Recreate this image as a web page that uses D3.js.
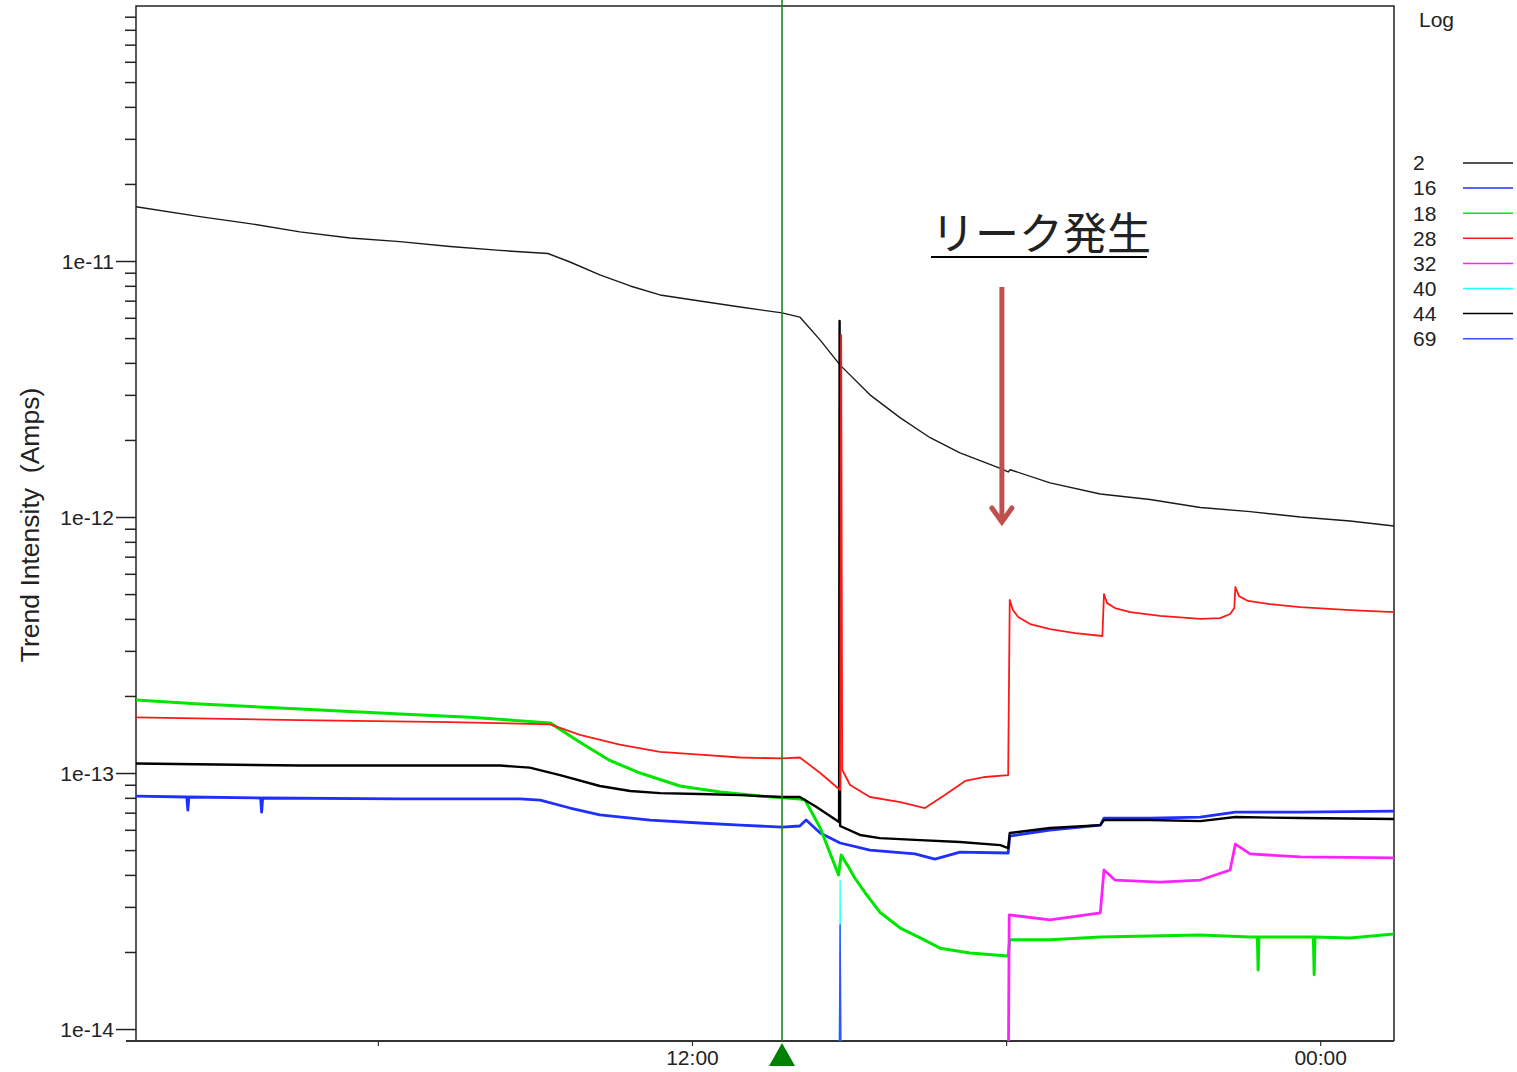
<!DOCTYPE html>
<html><head><meta charset="utf-8">
<script src="https://cdn.jsdelivr.net/npm/d3@7"></script>
<style>
html,body{margin:0;padding:0;background:#fff;}
svg{display:block;}
text{font-family:"Liberation Sans",Arial,sans-serif;fill:#222;}
</style></head>
<body>
<svg id="chart" width="1517" height="1072"></svg>
<script>
// ---- data: [hour of day (24+ = next day), ion current in Amps] ----
const massLabels = ["2","16","18","28","32","40","44","69"];
const s2 = [[1.38,1.63e-11],[2.60,1.49e-11],[3.55,1.40e-11],[4.51,1.30e-11],[5.47,1.23e-11],[6.42,1.19e-11],[7.38,1.14e-11],[8.33,1.10e-11],[9.25,1.07e-11],[9.67,9.91e-12],[10.24,8.82e-12],[10.82,7.99e-12],[11.39,7.37e-12],[12.15,6.98e-12],[12.92,6.61e-12],[13.72,6.27e-12],[14.06,6.04e-12],[14.45,4.91e-12],[14.83,3.92e-12],[15.40,3.00e-12],[15.98,2.44e-12],[16.55,2.04e-12],[17.12,1.78e-12],[17.89,1.55e-12],[18.04,1.50e-12],[18.08,1.53e-12],[18.84,1.36e-12],[19.80,1.23e-12],[20.75,1.17e-12],[21.71,1.09e-12],[22.66,1.05e-12],[23.62,1.00e-12],[24.57,9.65e-13],[25.41,9.22e-13]];
const s16 = [[1.38,8.13e-14],[2.35,8.06e-14],[2.37,7.17e-14],[2.39,8.06e-14],[3.76,7.99e-14],[3.78,7.04e-14],[3.80,7.99e-14],[6.42,7.92e-14],[8.71,7.92e-14],[9.10,7.84e-14],[9.67,7.30e-14],[10.24,6.86e-14],[11.20,6.55e-14],[12.15,6.38e-14],[12.92,6.26e-14],[13.72,6.15e-14],[14.06,6.21e-14],[14.18,6.55e-14],[14.45,5.83e-14],[14.83,5.33e-14],[15.40,5.00e-14],[16.26,4.83e-14],[16.64,4.61e-14],[17.12,4.91e-14],[18.04,4.87e-14],[18.07,5.67e-14],[18.84,5.99e-14],[19.80,6.26e-14],[19.87,6.67e-14],[20.75,6.67e-14],[21.71,6.73e-14],[22.38,7.04e-14],[23.62,7.04e-14],[25.41,7.10e-14]];
const s18 = [[1.38,1.93e-13],[2.60,1.86e-13],[4.51,1.78e-13],[6.42,1.70e-13],[7.76,1.65e-13],[9.29,1.57e-13],[9.86,1.32e-13],[10.43,1.12e-13],[11.01,1.00e-13],[11.77,8.90e-14],[12.54,8.43e-14],[13.30,8.13e-14],[14.06,7.92e-14],[14.16,7.84e-14],[14.45,6.10e-14],[14.80,4.00e-14],[14.85,4.78e-14],[14.98,4.33e-14],[15.11,3.89e-14],[15.31,3.40e-14],[15.59,2.86e-14],[15.98,2.48e-14],[16.36,2.27e-14],[16.74,2.07e-14],[17.31,1.98e-14],[18.04,1.93e-14],[18.07,2.23e-14],[18.84,2.23e-14],[19.80,2.29e-14],[20.75,2.31e-14],[21.71,2.33e-14],[22.66,2.29e-14],[22.80,2.29e-14],[22.815,1.70e-14],[22.83,2.29e-14],[23.62,2.29e-14],[23.87,2.29e-14],[23.885,1.63e-14],[23.90,2.29e-14],[24.57,2.27e-14],[25.41,2.35e-14]];
const s28 = [[1.38,1.65e-13],[4.51,1.61e-13],[7.38,1.58e-13],[9.29,1.55e-13],[9.86,1.41e-13],[10.62,1.29e-13],[11.39,1.21e-13],[12.15,1.18e-13],[12.92,1.15e-13],[13.72,1.14e-13],[14.06,1.15e-13],[14.45,1.00e-13],[14.83,8.58e-14],[14.85,5.14e-12],[14.87,1.03e-13],[15.02,8.98e-14],[15.40,8.06e-14],[15.98,7.70e-14],[16.45,7.30e-14],[16.83,8.20e-14],[17.22,9.31e-14],[17.60,9.65e-14],[18.04,9.82e-14],[18.07,4.74e-13],[18.13,4.33e-13],[18.23,4.07e-13],[18.46,3.82e-13],[18.84,3.65e-13],[19.32,3.52e-13],[19.84,3.43e-13],[19.87,5.00e-13],[19.93,4.61e-13],[20.08,4.41e-13],[20.37,4.25e-13],[20.94,4.11e-13],[21.71,4.00e-13],[22.09,4.03e-13],[22.28,4.18e-13],[22.36,4.41e-13],[22.38,5.33e-13],[22.45,4.91e-13],[22.62,4.70e-13],[23.04,4.57e-13],[23.62,4.45e-13],[24.57,4.33e-13],[25.41,4.25e-13]];
const s32 = [[18.04,5.0e-15],[18.06,2.79e-14],[18.84,2.67e-14],[19.80,2.84e-14],[19.87,4.18e-14],[20.08,3.82e-14],[20.94,3.75e-14],[21.71,3.82e-14],[22.28,4.18e-14],[22.38,5.28e-14],[22.66,4.83e-14],[23.62,4.70e-14],[25.41,4.66e-14]];
const s40 = [[14.81,5.0e-15],[14.83,3.82e-14],[14.85,5.0e-15]];
const s44 = [[1.38,1.09e-13],[4.51,1.07e-13],[8.33,1.07e-13],[8.90,1.05e-13],[9.48,9.82e-14],[10.24,8.90e-14],[10.82,8.51e-14],[11.39,8.35e-14],[12.15,8.28e-14],[12.92,8.20e-14],[13.72,8.06e-14],[14.06,8.06e-14],[14.35,7.43e-14],[14.81,6.44e-14],[14.82,5.83e-12],[14.83,6.21e-14],[15.21,5.73e-14],[15.59,5.57e-14],[16.36,5.47e-14],[17.12,5.38e-14],[17.89,5.23e-14],[18.04,5.09e-14],[18.07,5.83e-14],[18.84,6.10e-14],[19.80,6.26e-14],[19.87,6.55e-14],[20.75,6.55e-14],[21.71,6.49e-14],[22.38,6.73e-14],[23.62,6.67e-14],[25.41,6.61e-14]];
const s69 = [[14.81,5.0e-15],[14.83,2.55e-14],[14.85,5.0e-15]];

// axis / annotation values
const yDomain = [8.98e-15, 9.91e-11];
const xDomainHours = [1.38, 25.41];
const xTickHours = [6, 12, 18, 24];
const xTickLabels = {12: "12:00", 24: "00:00"};
const markerHour = 13.72;
const leakHour = 17.92;
const leakLabel = "リーク発生";
const yTitle = "Trend Intensity  (Amps)";
const legendTitle = "Log";

// ---- drawing ----
const seriesList = [s2, s16, s18, s28, s32, s40, s44, s69];
const colors = ["#1a1a1a", "#1f2fff", "#00e600", "#ff1a1a", "#ff22ff", "#22ffff", "#000000", "#3355ff"];
const widths = [1.4, 2.8, 3.0, 1.8, 2.8, 1.2, 2.4, 1.4];
const drawOrder = [0, 1, 2, 6, 3, 4, 5, 7];

const svg = d3.select("#chart");
const L = 136, R = 1394, T = 6, B = 1041;
const base = new Date(2020, 0, 1, 0, 0, 0).getTime();
const toDate = h => new Date(base + h * 3600e3);

const x = d3.scaleTime().domain(xDomainHours.map(toDate)).range([L, R]);
const y = d3.scaleLog().domain(yDomain).range([B, T]);

svg.append("defs").append("clipPath").attr("id", "clip")
  .append("rect").attr("x", L).attr("y", T).attr("width", R - L).attr("height", B - T);

// frame
svg.append("path")
  .attr("d", `M${L},${B}V${T}H${R}V${B}`)
  .attr("fill", "none").attr("stroke", "#222").attr("stroke-width", 1.5);

// y axis
const yAxis = d3.axisLeft(y)
  .tickValues(d3.range(-14, -10).flatMap(e => d3.range(1, 10).map(m => m * Math.pow(10, e))).filter(v => v >= yDomain[0] && v <= yDomain[1]))
  .tickSize(0)
  .tickFormat(() => "");
const gy = svg.append("g").attr("transform", `translate(${L},0)`).call(yAxis);
gy.select(".domain").remove();
gy.selectAll(".tick").each(function (d) {
  const mant = Math.round(d / Math.pow(10, Math.floor(Math.log10(d) + 1e-9)));
  const g = d3.select(this);
  const major = mant === 1;
  g.select("line").attr("x2", major ? -20 : -11).attr("stroke", "#222").attr("stroke-width", 1.5);
  if (major) {
    const e = Math.round(Math.log10(d));
    g.select("text").attr("x", -22).attr("dy", "0.34em")
      .style("font-size", "21px").attr("fill", "#222").text("1e" + e);
  }
});

// x axis
const xAxis = d3.axisBottom(x)
  .tickValues(xTickHours.map(toDate))
  .tickSize(5)
  .tickPadding(4)
  .tickFormat((d) => { const h = (d.getTime() - base) / 3600e3; return xTickLabels[Math.round(h)] || ""; });
const gx = svg.append("g").attr("transform", `translate(0,${B})`).call(xAxis);
gx.select(".domain").attr("d", `M${L - 10},0H${R}`).attr("stroke", "#333").attr("stroke-width", 2.2);
gx.selectAll(".tick line").attr("stroke", "#333").attr("stroke-width", 1.2);
gx.selectAll(".tick text").style("font-size", "21px").attr("fill", "#222");

// y title
svg.append("text")
  .attr("transform", `translate(39,525) rotate(-90)`)
  .attr("text-anchor", "middle")
  .style("font-size", "26.5px").attr("fill", "#333")
  .attr("xml:space", "preserve")
  .text(yTitle);

// series
const line = d3.line().x(d => x(toDate(d[0]))).y(d => y(d[1]));
const gs = svg.append("g").attr("clip-path", "url(#clip)");
drawOrder.forEach(i => {
  gs.append("path").datum(seriesList[i])
    .attr("d", line)
    .attr("fill", "none")
    .attr("stroke", colors[i])
    .attr("stroke-width", widths[i])
    .attr("stroke-linejoin", "round");
});

// marker line and triangle
const mx = x(toDate(markerHour));
svg.append("line").attr("x1", mx).attr("x2", mx).attr("y1", 0).attr("y2", B)
  .attr("stroke", "#1a8a1a").attr("stroke-width", 1.6);
svg.append("path").attr("d", `M${mx},${B + 2}L${mx + 13},${B + 25}L${mx - 13},${B + 25}Z`).attr("fill", "#008000");

// annotation
const ax = x(toDate(leakHour));
svg.append("text").attr("x", 931).attr("y", 250)
  .style("font-family", "'Noto Sans CJK JP', sans-serif").style("font-size", "44px")
  .attr("fill", "#000").text(leakLabel);
svg.append("line").attr("x1", 931).attr("x2", 1147).attr("y1", 257).attr("y2", 257)
  .attr("stroke", "#000").attr("stroke-width", 2.2);
svg.append("line").attr("x1", ax).attr("x2", ax).attr("y1", 287).attr("y2", 522)
  .attr("stroke", "#c0504d").attr("stroke-width", 5);
svg.append("path").attr("d", `M${ax - 10},${508}L${ax},${522}L${ax + 10},${508}`)
  .attr("fill", "none").attr("stroke", "#c0504d").attr("stroke-width", 5).attr("stroke-linecap", "round");

// legend
svg.append("text").attr("x", 1419).attr("y", 27).style("font-size", "21px").attr("fill", "#222").text(legendTitle);
const lg = svg.append("g");
massLabels.forEach((m, i) => {
  const yy = 163 + i * 25.1;
  lg.append("text").attr("x", 1413).attr("y", yy).attr("dy", "0.35em").style("font-size", "21px").attr("fill", "#222").text(m);
  lg.append("line").attr("x1", 1463).attr("x2", 1513).attr("y1", yy).attr("y2", yy)
    .attr("stroke", colors[i]).attr("stroke-width", 1.5);
});
</script>
</body></html>
